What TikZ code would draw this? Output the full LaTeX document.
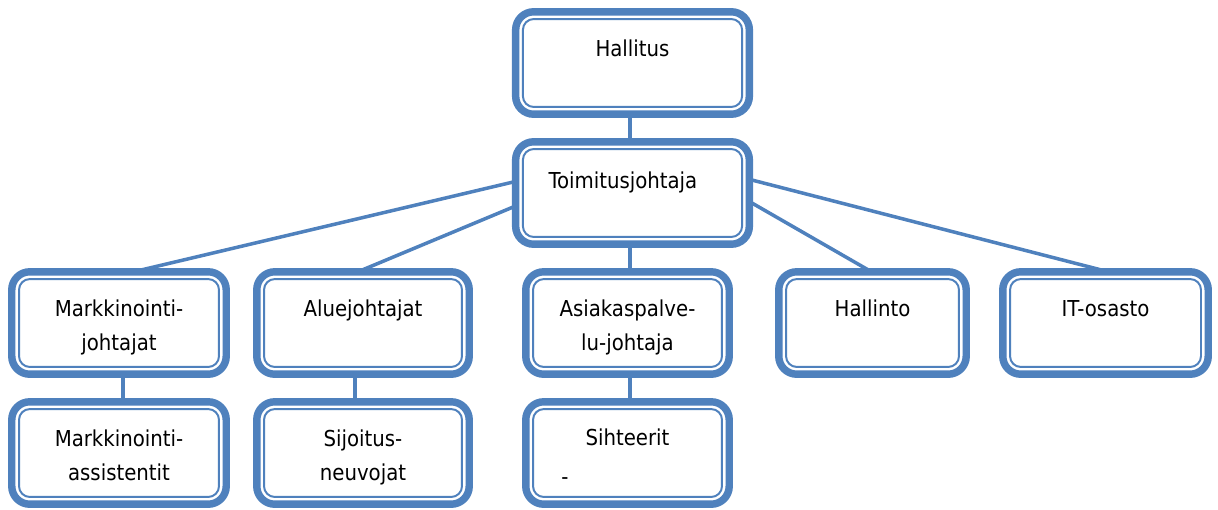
\documentclass[tikz,border=0pt]{standalone}
\usepackage{fontspec}
\setmainfont{DejaVu Sans Condensed}
\usetikzlibrary{calc,backgrounds}
\definecolor{orgblue}{RGB}{79,129,189}
\tikzset{
  orgbox/.style={draw=orgblue,fill=white,line width=5.3pt,rounded corners=0.45cm,
    outer sep=0pt,inner sep=0pt,minimum height=2.56cm,align=center,
    text height=11.4pt,text depth=21.3pt,
    font=\fontsize{15.6}{24.2}\selectfont},
  twoline/.style={text height=42pt,text depth=3.5pt},
  orginner/.style={draw=orgblue,line width=1.4pt,rounded corners=0.27cm},
  orgline/.style={draw=orgblue,line width=2.5pt}
}

\begin{document}
\begin{tikzpicture}[x=0.025cm,y=-0.025cm]
\useasboundingbox (0,0) rectangle (1218,509);

% top
\node[orgbox,minimum width=5.84cm] (hal) at (632.5,63) {Hallitus};
\node[orgbox,minimum width=5.84cm,text height=15.2pt] (toim) at (632.5,193) {Toimitusjohtaja\hspace*{0.475cm}};

% second row
\node[orgbox,twoline,minimum width=5.36cm] (mark) at (119,323) {Markkinointi-\\johtajat};
\node[orgbox,minimum width=5.31cm] (alue) at (363,323) {Aluejohtajat};
\node[orgbox,twoline,minimum width=5.085cm] (asiak) at (627.5,323) {Asiakaspalve-\\lu-johtaja};
\node[orgbox,minimum width=4.685cm] (hallinto) at (872.5,323) {Hallinto};
\node[orgbox,minimum width=5.135cm] (it) at (1105.5,323) {IT-osasto};

% third row
\node[orgbox,twoline,minimum width=5.36cm] (assist) at (119,453) {Markkinointi-\\assistentit};
\node[orgbox,twoline,minimum width=5.31cm] (sijoit) at (363,453) {Sijoitus-\\neuvojat};
\node[orgbox,twoline,minimum width=5.085cm,text height=45pt,text depth=0.6pt] (siht) at (627.5,453) {Sihteerit\\[3pt]\makebox[3.3cm][l]{-}};

% inner frames
\foreach \n in {hal,toim,mark,alue,asiak,hallinto,it,assist,sijoit,siht}
  \draw[orginner] ($(\n.north west)+(7.25,7.25)$) rectangle ($(\n.south east)+(-7.25,-7.25)$);

% connectors
\begin{pgfonlayer}{background}
\draw[orgline] ($(hal.south)+(-2.5,-5)$) -- ($(toim.north)+(-2.5,5)$);
\draw[orgline] ($(toim.west)+(25,-17.5)$) -- ($(mark.north)+(1,3.2)$);
\draw[orgline] ($(toim.west)+(15,6.7)$) -- ($(alue.north)+(-13,3.3)$);
\draw[orgline] ($(toim.south)+(-2.5,-5)$) -- ($(asiak.north)+(2.5,5)$);
\draw[orgline] ($(toim.east)+(-20,-3)$) -- ($(hallinto.north)+(2.5,2)$);
\draw[orgline] ($(toim.east)+(-20,-18.8)$) -- ($(it.north)+(9.5,1.7)$);
\draw[orgline] ($(mark.south)+(4,-5)$) -- ($(assist.north)+(4,5)$);
\draw[orgline] ($(alue.south)+(-8,-5)$) -- ($(sijoit.north)+(-8,5)$);
\draw[orgline] ($(asiak.south)+(2.5,-5)$) -- ($(siht.north)+(2.5,5)$);
\end{pgfonlayer}

\end{tikzpicture}
\end{document}
